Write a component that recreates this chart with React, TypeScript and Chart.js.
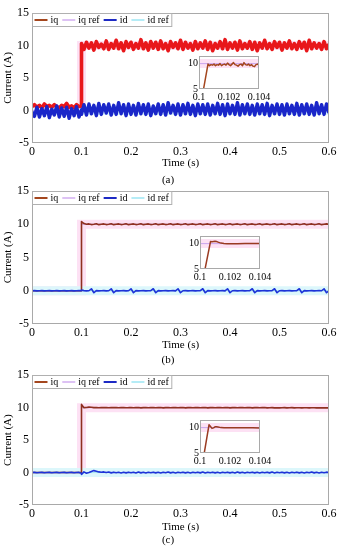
import React, { useEffect, useRef } from 'react';
import { Chart, registerables } from 'chart.js';
Chart.register(...registerables);

// ---------------- data ----------------
const T_MAIN = [
  0, 0.005, 0.01, 0.015, 0.02, 0.025, 0.03, 0.035, 0.04, 0.045,
  0.05, 0.055, 0.06, 0.065, 0.07, 0.075, 0.08, 0.085, 0.09, 0.095, 0.1,
  0.1, 0.105, 0.11, 0.115, 0.12, 0.125, 0.13, 0.135, 0.14, 0.145,
  0.15, 0.155, 0.16, 0.165, 0.17, 0.175, 0.18, 0.185, 0.19, 0.195,
  0.2, 0.205, 0.21, 0.215, 0.22, 0.225, 0.23, 0.235, 0.24, 0.245,
  0.25, 0.255, 0.26, 0.265, 0.27, 0.275, 0.28, 0.285, 0.29, 0.295,
  0.3, 0.305, 0.31, 0.315, 0.32, 0.325, 0.33, 0.335, 0.34, 0.345,
  0.35, 0.355, 0.36, 0.365, 0.37, 0.375, 0.38, 0.385, 0.39, 0.395,
  0.4, 0.405, 0.41, 0.415, 0.42, 0.425, 0.43, 0.435, 0.44, 0.445,
  0.45, 0.455, 0.46, 0.465, 0.47, 0.475, 0.48, 0.485, 0.49, 0.495,
  0.5, 0.505, 0.51, 0.515, 0.52, 0.525, 0.53, 0.535, 0.54, 0.545,
  0.55, 0.555, 0.56, 0.565, 0.57, 0.575, 0.58, 0.585, 0.59, 0.595,
  0.6,
];

// reference signals (step at 0.1 s)
const T_REF = [0, 0.1, 0.1, 0.6];
const IQ_REF = [0, 0, 10, 10];
const ID_REF = [0, 0, 0, 0];

// panel (a)
const A_IQ = [
  0.6, 0.9, 0.5, 0.8, 0.4, 1.0, 0.6, 0.8, 0.5, 0.9,
  0.6, 0.4, 0.8, 0.6, 1.1, 0.5, 0.7, 0.4, 0.9, 0.6, 0.7,
  10.3, 9.4, 10.5, 9.6, 10.4, 9.3, 10.6, 9.7, 10.2, 9.5,
  10.7, 9.4, 10.3, 9.6, 10.8, 9.5, 10.4, 9.2, 10.6, 9.7,
  10.5, 9.4, 10.3, 9.6, 10.9, 9.5, 10.4, 9.3, 10.6, 9.6,
  10.5, 9.4, 10.7, 9.5, 10.3, 9.2, 10.6, 9.7, 10.4, 9.5,
  10.8, 9.4, 10.5, 9.6, 10.3, 9.3, 10.6, 9.5, 10.4, 9.6,
  10.7, 9.4, 10.5, 9.2, 10.3, 9.6, 10.6, 9.5, 10.9, 9.4,
  10.4, 9.6, 10.5, 9.3, 10.7, 9.5, 10.3, 9.6, 10.6, 9.4,
  10.5, 9.2, 10.4, 9.6, 10.8, 9.5, 10.3, 9.4, 10.6, 9.7,
  10.5, 9.3, 10.4, 9.6, 10.7, 9.5, 10.3, 9.4, 10.6, 9.6,
  10.5, 9.2, 10.8, 9.5, 10.4, 9.6, 10.3, 9.4, 10.6, 9.5,
  10.2,
];
const A_ID = [
  -0.2, -0.9, 0.5, -1.0, 0.3, -0.8, 0.6, -1.1, 0.2, -0.7,
  0.7, -1.0, 0.4, -0.9, 0.5, -1.2, 0.3, -0.8, 0.6, -1.0, 0.1,
  -0.6, 0.9, -0.7, 1.0, -0.5, 0.8, -0.8, 1.1, -0.6, 0.9,
  -0.4, 1.0, -0.7, 0.8, -0.6, 1.2, -0.5, 0.9, -0.8, 1.0,
  -0.6, 0.8, -0.7, 1.1, -0.5, 0.9, -0.6, 1.0, -0.8, 0.7,
  -0.5, 1.0, -0.6, 0.9, -0.7, 1.2, -0.4, 0.8, -0.6, 1.0,
  -0.7, 0.9, -0.5, 1.1, -0.6, 0.8, -0.8, 1.0, -0.5, 0.9,
  -0.6, 1.0, -0.7, 0.8, -0.5, 1.1, -0.6, 0.9, -0.8, 1.0,
  -0.5, 0.8, -0.6, 1.2, -0.7, 0.9, -0.5, 1.0, -0.6, 0.8,
  -0.7, 1.0, -0.5, 0.9, -0.6, 1.1, -0.8, 0.8, -0.5, 1.0,
  -0.6, 0.9, -0.7, 1.0, -0.5, 0.8, -0.6, 1.1, -0.7, 0.9,
  -0.5, 1.0, -0.6, 0.8, -0.7, 1.2, -0.5, 0.9, -0.6, 1.0,
  -0.4,
];

// panel (b)
const B_IQ = [
  0, 0, 0, 0, 0, 0, 0, 0, 0, 0,
  0, 0, 0, 0, 0, 0, 0, 0, 0, 0, 0,
  10.4, 10.1, 10.0, 10.05, 9.95, 10.0, 10.08, 9.94, 10.0, 10.05,
  9.95, 10.0, 10.08, 9.94, 10.0, 10.05, 9.95, 10.0, 10.08, 9.94,
  10.0, 10.05, 9.95, 10.0, 10.08, 9.94, 10.0, 10.05, 9.95, 10.0,
  10.08, 9.94, 10.0, 10.05, 9.95, 10.0, 10.08, 9.94, 10.0, 10.05,
  9.95, 10.0, 10.08, 9.94, 10.0, 10.05, 9.95, 10.0, 10.08, 9.94,
  10.0, 10.05, 9.95, 10.0, 10.08, 9.94, 10.0, 10.05, 9.95, 10.0,
  10.08, 9.94, 10.0, 10.05, 9.95, 10.0, 10.08, 9.94, 10.0, 10.05,
  9.95, 10.0, 10.08, 9.94, 10.0, 10.05, 9.95, 10.0, 10.08, 9.94,
  10.0, 10.05, 9.95, 10.0, 10.08, 9.94, 10.0, 10.05, 9.95, 10.0,
  10.08, 9.94, 10.0, 10.05, 9.95, 10.0, 10.08, 9.94, 10.0, 10.05,
  10.0,
];
const B_ID = [
  0.0, 0.02, -0.02, 0.0, 0.02, -0.02, 0.0, 0.02, -0.02, 0.0,
  0.02, -0.02, 0.0, 0.02, -0.02, 0.0, 0.02, -0.02, 0.0, 0.02, 0.0,
  0.1, 0.02, -0.02, 0.0, 0.3, -0.3, 0.02, -0.02, 0.0, 0.02,
  -0.02, 0.0, 0.3, -0.3, 0.02, -0.02, 0.0, 0.02, -0.02, 0.0,
  0.3, -0.3, 0.02, -0.02, 0.0, 0.02, -0.02, 0.0, 0.02, 0.3,
  -0.3, 0.02, -0.02, 0.0, 0.02, -0.02, 0.0, 0.02, -0.02, 0.3,
  -0.3, 0.0, 0.02, -0.02, 0.0, 0.02, -0.02, 0.0, 0.02, 0.3,
  -0.3, 0.02, -0.02, 0.0, 0.02, -0.02, 0.0, 0.02, -0.02, 0.3,
  -0.3, 0.0, 0.02, -0.02, 0.0, 0.02, -0.02, 0.0, 0.02, 0.3,
  -0.3, 0.02, -0.02, 0.0, 0.02, -0.02, 0.0, 0.02, 0.3, -0.3,
  0.0, 0.02, -0.02, 0.0, 0.02, -0.02, 0.0, 0.02, 0.3, -0.3,
  0.02, -0.02, 0.0, 0.02, -0.02, 0.0, 0.02, 0.0, 0.3, -0.3,
  0.0,
];

// panel (c)
const C_IQ = [
  0, 0, 0, 0, 0, 0, 0, 0, 0, 0,
  0, 0, 0, 0, 0, 0, 0, 0, 0, 0, 0,
  10.5, 10.0, 10.02, 10.08, 10.05, 10.0, 10.02, 9.98, 10.03, 10.0,
  10.02, 9.98, 10.03, 10.0, 10.02, 9.98, 10.0, 10.02, 9.98, 10.0,
  10.03, 9.98, 10.0, 10.02, 9.97, 10.0, 10.03, 9.98, 10.0, 10.02,
  9.98, 10.0, 10.02, 9.97, 10.0, 10.03, 9.98, 10.0, 10.02, 9.98,
  10.0, 10.02, 9.97, 10.0, 10.03, 9.98, 10.0, 10.02, 9.98, 10.0,
  10.02, 9.97, 10.0, 10.03, 9.98, 10.0, 10.02, 9.98, 10.0, 10.02,
  9.97, 10.0, 10.03, 9.98, 10.0, 10.02, 9.98, 10.0, 10.02, 9.97,
  10.0, 10.02, 9.98, 10.0, 10.02, 9.97, 9.99, 10.01, 9.97, 9.99,
  9.97, 9.99, 10.0, 9.97, 9.98, 10.0, 9.97, 9.98, 9.99, 9.96,
  9.98, 9.99, 9.96, 9.98, 9.99, 9.96, 9.97, 9.98, 9.96, 9.97,
  9.96,
];
const C_ID = [
  0.0, 0.02, -0.02, 0.0, 0.02, -0.02, 0.0, 0.02, -0.02, 0.0,
  0.02, -0.02, 0.0, 0.02, -0.02, 0.0, 0.02, -0.02, 0.0, 0.02, -0.1,
  -0.3, 0.1, -0.1, 0.0, 0.15, 0.3, 0.2, 0.1, 0.05, 0.1,
  0.0, 0.08, -0.05, 0.06, -0.04, 0.05, -0.06, 0.04, -0.05, 0.06,
  -0.04, 0.05, -0.06, 0.08, -0.05, 0.04, -0.06, 0.05, -0.04, 0.06,
  -0.05, 0.04, -0.06, 0.05, -0.04, 0.08, -0.05, 0.04, -0.06, 0.05,
  -0.04, 0.06, -0.05, 0.04, -0.06, 0.05, -0.04, 0.06, -0.05, 0.08,
  -0.06, 0.05, -0.04, 0.06, -0.05, 0.04, -0.06, 0.05, -0.04, 0.06,
  -0.05, 0.04, -0.06, 0.08, -0.05, 0.04, -0.06, 0.05, -0.04, 0.06,
  -0.05, 0.04, -0.06, 0.05, -0.04, 0.06, -0.05, 0.08, -0.06, 0.05,
  -0.04, 0.06, -0.05, 0.04, -0.06, 0.05, -0.04, 0.06, -0.05, 0.04,
  -0.06, 0.05, -0.04, 0.08, -0.05, 0.04, -0.06, 0.05, -0.04, 0.06,
  0.0,
];

// insets (zoom on 0.1 .. 0.104 s)
const T_INSET_A = [
  0.1, 0.1006, 0.1007, 0.1008, 0.1009, 0.101, 0.1011, 0.1012, 0.1013, 0.1014,
  0.1015, 0.1016, 0.1017, 0.1018, 0.1019, 0.102, 0.1021, 0.1022, 0.1023, 0.1024,
  0.1025, 0.1026, 0.1027, 0.1028, 0.1029, 0.103, 0.1031, 0.1032, 0.1033, 0.1034,
  0.1035, 0.1036, 0.1037, 0.1038, 0.1039, 0.104,
];
const IQ_INSET_A = [
  0, 9.9, 9.6, 9.8, 9.7, 9.9, 9.6, 9.8, 9.7, 10.0,
  9.6, 9.8, 9.9, 9.7, 10.1, 9.8, 9.6, 9.9, 10.2, 9.8,
  9.7, 9.5, 9.8, 9.9, 9.6, 10.2, 9.8, 9.7, 9.9, 9.6,
  9.8, 9.5, 9.4, 9.8, 9.9, 9.7,
];
const T_INSET_B = [0.1, 0.1007, 0.1008, 0.1009, 0.101, 0.1011, 0.1012, 0.1013, 0.1014, 0.1016, 0.1018, 0.102, 0.1025, 0.103, 0.1035, 0.104];
const IQ_INSET_B = [0, 10.4, 10.35, 10.4, 10.45, 10.4, 10.3, 10.2, 10.1, 10.02, 9.98, 9.97, 9.98, 10.0, 10.0, 10.0];
const T_INSET_C = [0.1, 0.1006, 0.1007, 0.1008, 0.1009, 0.101, 0.1011, 0.1012, 0.1014, 0.1016, 0.102, 0.1025, 0.103, 0.1035, 0.104];
const IQ_INSET_C = [0, 10.55, 10.2, 9.85, 9.95, 10.15, 10.15, 10.1, 10.0, 9.95, 9.97, 9.98, 9.96, 9.95, 9.93];
const T_INSET_REF = [0.1, 0.104];
const IQ_INSET_REF = [10, 10];

// ticks / labels
const X_TICKS = [0, 0.1, 0.2, 0.3, 0.4, 0.5, 0.6];
const Y_TICKS = [-5, 0, 5, 10, 15];
const INSET_X_TICKS = [0.1, 0.102, 0.104];
const INSET_Y_TICKS = [5, 10];
const X_TITLE = 'Time (s)';
const Y_TITLE = 'Current (A)';
const LEGEND_LABELS = ['iq', 'iq ref', 'id', 'id ref'];
const CAPTIONS = ['(a)', '(b)', '(c)'];

// ---------------- styles ----------------
const FONT = '"Liberation Serif", "Times New Roman", serif';
const LEGEND_COLORS = ['#a4461e', '#d2aef0', '#1d2ac4', '#b5ecf6'];
const LEGEND_WIDTHS = [2, 1.5, 2, 2];
const ID_COLOR = '#1d33d8';
const IQREF_COLOR = '#c9a4ee';
const IDREF_COLOR = '#a6e6f2';
const IQREF_BAND = '#fde1f4';
const IDREF_BAND = '#dcf7fb';
const FRAME_COLOR = '#a9a9a9';
const W = 343;

type Inset = { left: number; top: number; t: number[]; v: number[]; color: string };
type Spec = {
  top: number; height: number; areaTop: number; areaBottom: number; titleY: number;
  caption: string; captionY: number; iq: number[]; id: number[]; iqColor: string; idColor: string;
  iqWidth: number; idWidth: number; inset: Inset;
};

const PANELS: Spec[] = [
  { top: 0, height: 190, areaTop: 13, areaBottom: 143, titleY: 163, caption: CAPTIONS[0], captionY: 180,
    iq: A_IQ, id: A_ID, iqColor: '#e8171b', idColor: '#1a26c9', iqWidth: 3.6, idWidth: 3.4,
    inset: { left: 199, top: 53, t: T_INSET_A, v: IQ_INSET_A, color: '#a4461e' } },
  { top: 180, height: 190, areaTop: 11, areaBottom: 144, titleY: 165, caption: CAPTIONS[1], captionY: 180,
    iq: B_IQ, id: B_ID, iqColor: '#8f3020', idColor: ID_COLOR, iqWidth: 1.6, idWidth: 1.6,
    inset: { left: 200, top: 53, t: T_INSET_B, v: IQ_INSET_B, color: '#9a3b22' } },
  { top: 365, height: 185, areaTop: 7, areaBottom: 140, titleY: 162, caption: CAPTIONS[2], captionY: 175,
    iq: C_IQ, id: C_ID, iqColor: '#8f3020', idColor: ID_COLOR, iqWidth: 1.6, idWidth: 1.6,
    inset: { left: 200, top: 52, t: T_INSET_C, v: IQ_INSET_C, color: '#9a3b22' } },
];

function pts(t: number[], v: number[]) {
  return t.map((x, i) => ({ x, y: v[i] }));
}
function ds(label: string, data: any[], color: string, width: number) {
  return {
    label, data, borderColor: color, backgroundColor: color, borderWidth: width,
    pointRadius: 0, pointHoverRadius: 0, fill: false, tension: 0, clip: 0,
    borderJoinStyle: 'round', borderCapStyle: 'butt',
  };
}

const framePlugin = {
  id: 'frame',
  afterDatasetsDraw(chart: any) {
    const { ctx, chartArea: a } = chart;
    ctx.save();
    ctx.strokeStyle = FRAME_COLOR;
    ctx.lineWidth = 1;
    const l = Math.round(a.left) + 0.5, t = Math.round(a.top) + 0.5;
    const r = Math.round(a.right) - 0.5, b = Math.round(a.bottom) - 0.5;
    ctx.strokeRect(l, t, r - l, b - t);
    ctx.restore();
  },
};

const legendPlugin = {
  id: 'matlabLegend',
  afterDraw(chart: any) {
    const { ctx, chartArea: a } = chart;
    ctx.save();
    ctx.font = `10px ${FONT}`;
    const x0 = Math.round(a.left) + 0.5;
    const y0 = Math.round(a.top) + 0.5;
    let x = x0 + 2;
    const pos: number[] = [];
    LEGEND_LABELS.forEach((lab, i) => {
      pos.push(x);
      x += 13 + 3 + ctx.measureText(lab).width + (i < LEGEND_LABELS.length - 1 ? 4 : 3);
    });
    const w = x - x0, h = 13;
    ctx.fillStyle = '#fff';
    ctx.fillRect(x0, y0, w, h);
    ctx.strokeStyle = '#b0b0b0';
    ctx.lineWidth = 1;
    ctx.strokeRect(x0, y0, w, h);
    const cy = y0 + h / 2;
    LEGEND_LABELS.forEach((lab, i) => {
      ctx.strokeStyle = LEGEND_COLORS[i];
      ctx.lineWidth = LEGEND_WIDTHS[i];
      ctx.beginPath();
      ctx.moveTo(pos[i], cy);
      ctx.lineTo(pos[i] + 13, cy);
      ctx.stroke();
      ctx.fillStyle = '#000';
      ctx.textBaseline = 'middle';
      ctx.textAlign = 'left';
      ctx.fillText(lab, pos[i] + 16, cy + 0.5);
    });
    ctx.restore();
  },
};

function captionPlugin(text: string, y: number) {
  return {
    id: 'caption',
    afterDraw(chart: any) {
      const { ctx } = chart;
      ctx.save();
      ctx.font = `11px ${FONT}`;
      ctx.fillStyle = '#000';
      ctx.textAlign = 'center';
      ctx.textBaseline = 'middle';
      ctx.fillText(text, 168, y);
      ctx.restore();
    },
  };
}

function mainConfig(p: Spec): any {
  const H = p.height;
  return {
    type: 'line',
    data: {
      datasets: [
        ds('id', pts(T_MAIN, p.id), p.idColor, p.idWidth),
        ds('iq', pts(T_MAIN, p.iq), p.iqColor, p.iqWidth),
        ds('iq ref', pts(T_REF, IQ_REF), IQREF_COLOR, 1),
        ds('id ref', pts(T_REF, ID_REF), IDREF_COLOR, 1),
        { ...ds('id ref band', pts(T_REF, ID_REF), IDREF_BAND, 9), borderJoinStyle: 'miter' },
        { ...ds('iq ref band', pts(T_REF, IQ_REF), IQREF_BAND, 9), borderJoinStyle: 'miter' },
      ],
    },
    options: {
      animation: false, responsive: false, devicePixelRatio: 1,
      events: [],
      layout: { padding: { left: 0, right: 14, top: p.areaTop, bottom: 0 } },
      plugins: { legend: { display: false }, tooltip: { enabled: false }, title: { display: false } },
      scales: {
        x: {
          type: 'linear', min: 0, max: 0.6,
          afterBuildTicks: (s: any) => { s.ticks = X_TICKS.map((v) => ({ value: v })); },
          afterFit: (s: any) => { s.height = H - p.areaBottom; },
          grid: { display: false, drawTicks: false },
          border: { display: false },
          ticks: { padding: 2, color: '#000', font: { family: FONT, size: 12 }, maxRotation: 0, autoSkip: false, callback: (v: any) => String(v) },
          title: { display: true, text: X_TITLE, color: '#000', font: { family: FONT, size: 11 }, padding: { top: 0, bottom: H - p.titleY - 6.6 } },
        },
        y: {
          type: 'linear', min: -5, max: 15,
          afterBuildTicks: (s: any) => { s.ticks = Y_TICKS.map((v) => ({ value: v })); },
          afterFit: (s: any) => { s.width = 32; },
          grid: { display: false, drawTicks: false },
          border: { display: false },
          ticks: { padding: 3, color: '#000', font: { family: FONT, size: 12 }, callback: (v: any) => String(v) },
          title: { display: true, text: Y_TITLE, color: '#000', font: { family: FONT, size: 11 }, padding: { top: 2, bottom: 0 } },
        },
      },
    },
    plugins: [framePlugin, legendPlugin, captionPlugin(p.caption, p.captionY)],
  };
}

const IN_W = 94, IN_H = 56, IN_YW = 18, IN_TOP = 4, IN_XH = 16;

function insetConfig(ins: Inset): any {
  return {
    type: 'line',
    data: {
      datasets: [
        ds('iq', pts(ins.t, ins.v), ins.color, 1.5),
        ds('iq ref', pts(T_INSET_REF, IQ_INSET_REF), IQREF_COLOR, 1),
        ds('iq ref band', pts(T_INSET_REF, IQ_INSET_REF), IQREF_BAND, 9),
      ],
    },
    options: {
      animation: false, responsive: false, devicePixelRatio: 1,
      events: [],
      layout: { padding: { left: 0, right: IN_W - IN_YW - 60, top: IN_TOP, bottom: 0 } },
      plugins: { legend: { display: false }, tooltip: { enabled: false } },
      scales: {
        x: {
          type: 'linear', min: 0.1, max: 0.104,
          afterBuildTicks: (s: any) => { s.ticks = INSET_X_TICKS.map((v) => ({ value: v })); },
          afterFit: (s: any) => { s.height = IN_XH; },
          grid: { display: false, drawTicks: false },
          border: { display: false },
          ticks: { padding: 2, color: '#000', font: { family: FONT, size: 10 }, maxRotation: 0, autoSkip: false, callback: (v: any) => String(v) },
        },
        y: {
          type: 'linear', min: 5, max: 11.5,
          afterBuildTicks: (s: any) => { s.ticks = INSET_Y_TICKS.map((v) => ({ value: v })); },
          afterFit: (s: any) => { s.width = IN_YW; },
          grid: { display: false, drawTicks: false },
          border: { display: false },
          ticks: { padding: 1, color: '#000', font: { family: FONT, size: 10 }, callback: (v: any) => String(v) },
        },
      },
    },
    plugins: [framePlugin],
  };
}

function Panel({ spec }: { spec: Spec }) {
  const mainRef = useRef<HTMLCanvasElement>(null);
  const insetRef = useRef<HTMLCanvasElement>(null);
  useEffect(() => {
    const c1 = new Chart(mainRef.current as HTMLCanvasElement, mainConfig(spec));
    const c2 = new Chart(insetRef.current as HTMLCanvasElement, insetConfig(spec.inset));
    return () => { c1.destroy(); c2.destroy(); };
  }, []);
  return (
    <>
      <canvas ref={mainRef} width={W} height={spec.height}
        style={{ position: 'absolute', left: 0, top: spec.top, width: W, height: spec.height }} />
      <canvas ref={insetRef} width={IN_W} height={IN_H}
        style={{ position: 'absolute', left: spec.inset.left - IN_YW, top: spec.top + spec.inset.top - IN_TOP, width: IN_W, height: IN_H }} />
    </>
  );
}

export default function App() {
  return (
    <div style={{ position: 'absolute', left: 0, top: 0, width: W, height: 550, background: '#fff', overflow: 'hidden' }}>
      {PANELS.map((p, i) => <Panel key={i} spec={p} />)}
    </div>
  );
}
